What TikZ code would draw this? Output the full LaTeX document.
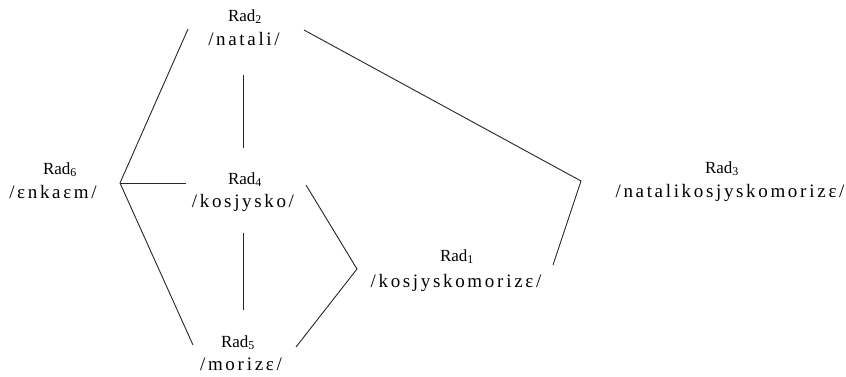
\documentclass[tikz,border=0pt]{standalone}
\usepackage{fontspec}
\setmainfont{Liberation Serif}
\newfontfamily\phonfont[LetterSpace=14]{Liberation Serif}
\begin{document}
\begin{tikzpicture}[x=1pt,y=-1pt,
  radlabel/.style={anchor=base,inner sep=0pt,font=\fontsize{17}{17}\selectfont},
  phon/.style={anchor=base,inner sep=0pt,font=\fontsize{19}{19}\phonfont},
  link/.style={draw=black!85,line width=0.9pt}]
\useasboundingbox (0,0) rectangle (846,376);

% labels: name above, transcription below
\node[radlabel] (r2) at (245,21) {Rad\textsubscript{2}};
\node[phon] (p2) at (244,45) {/natali/};
\node[radlabel] (r6) at (60,174) {Rad\textsubscript{6}};
\node[phon] (p6) at (53,198) {/εnkaεm/};
\node[radlabel] (r4) at (245,184) {Rad\textsubscript{4}};
\node[phon] (p4) at (243,207) {/kosjysko/};
\node[radlabel] (r5) at (238,347) {Rad\textsubscript{5}};
\node[phon] (p5) at (241,370) {/mor\hspace{3pt}izε/};
\node[radlabel] (r1) at (457,261) {Rad\textsubscript{1}};
\node[phon] (p1) at (456,287) {/kosjyskomor\hspace{3pt}izε/};
\node[radlabel] (r3) at (722,173) {Rad\textsubscript{3}};
\node[phon] (p3) at (730,197) {/natalikosjyskomor\hspace{3pt}izε/};

% connector end points
\coordinate (j6) at (120,183);
\coordinate (a2) at (188,29);
\coordinate (a4) at (186,183);
\coordinate (a5) at (193,345);
\coordinate (v2t) at (243,75);
\coordinate (v2b) at (243,148);
\coordinate (v4t) at (243,233);
\coordinate (v4b) at (243,310);
\coordinate (b4) at (306,185);
\coordinate (j1) at (357,269);
\coordinate (b5) at (296,347);
\coordinate (b2) at (304,30);
\coordinate (j3) at (581,181);
\coordinate (b1) at (553,265);

% connectors
\draw[link] (a2) -- (j6) -- (a5);
\draw[link] (j6) -- (a4);
\draw[link] (v2t) -- (v2b);
\draw[link] (v4t) -- (v4b);
\draw[link] (b4) -- (j1) -- (b5);
\draw[link] (b2) -- (j3) -- (b1);
\end{tikzpicture}
\end{document}
